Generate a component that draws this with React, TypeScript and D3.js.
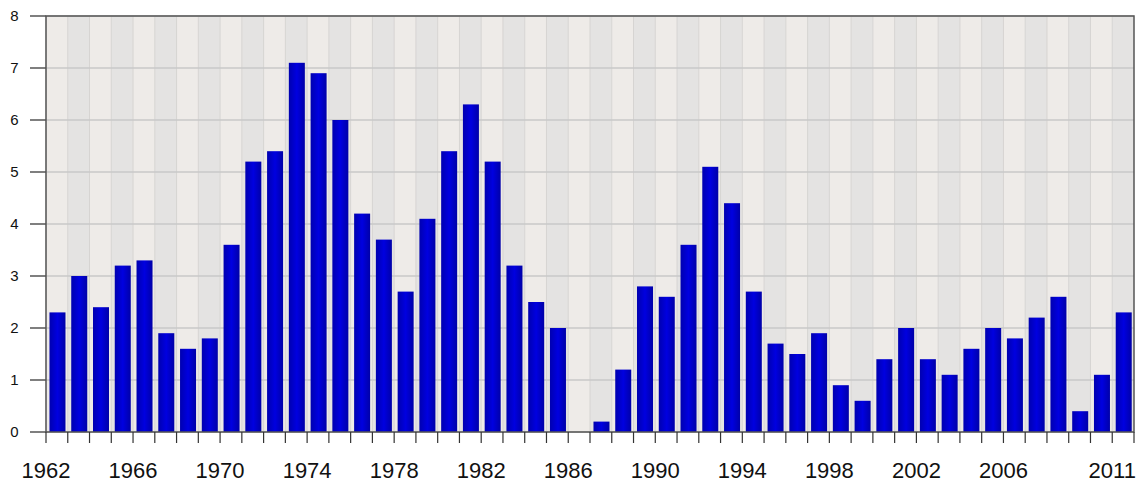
import * as d3 from "d3";
import React from "react";

const years = d3.range(1962, 2012);
const values = [
  2.3, 3.0, 2.4, 3.2, 3.3, 1.9, 1.6, 1.8, 3.6, 5.2,
  5.4, 7.1, 6.9, 6.0, 4.2, 3.7, 2.7, 4.1, 5.4, 6.3,
  5.2, 3.2, 2.5, 2.0, 0, 0.2, 1.2, 2.8, 2.6, 3.6,
  5.1, 4.4, 2.7, 1.7, 1.5, 1.9, 0.9, 0.6, 1.4, 2.0,
  1.4, 1.1, 1.6, 2.0, 1.8, 2.2, 2.6, 0.4, 1.1, 2.3,
];
const xLabels = [1962, 1966, 1970, 1974, 1978, 1982, 1986, 1990, 1994, 1998, 2002, 2006, 2011];
const yTicks = [0, 1, 2, 3, 4, 5, 6, 7, 8];

const width = 1143;
const height = 483;
const left = 46;
const right = 1134;
const top = 16;
const bottom = 432;

const App = () => {
  const x = d3.scaleBand<number>().domain(years).range([left, right]).padding(0);
  const y = d3.scaleLinear().domain([0, 8]).range([bottom, top]);
  const bw = x.bandwidth();
  const barW = 16;

  return (
    <svg
      width={width}
      height={height}
      style={{ position: "absolute", left: 0, top: 0, fontFamily: "Liberation Sans, Arial, sans-serif" }}
    >
      <defs>
        <linearGradient id="barGrad" x1="0" x2="1" y1="0" y2="0">
          <stop offset="0%" stopColor="#0000b0" />
          <stop offset="50%" stopColor="#0000e0" />
          <stop offset="100%" stopColor="#0000a8" />
        </linearGradient>
      </defs>
      <rect x={0} y={0} width={width} height={height} fill="#fff" />
      {years.map((yr, i) => (
        <rect
          key={"bg" + yr}
          x={x(yr)!}
          y={top}
          width={bw}
          height={bottom - top}
          fill={i % 2 === 0 ? "#eeebe8" : "#e4e3e2"}
        />
      ))}
      {years.map((yr) => (
        <line
          key={"vl" + yr}
          x1={x(yr)!}
          x2={x(yr)!}
          y1={top}
          y2={bottom}
          stroke="#d6d4d2"
          strokeWidth={1}
        />
      ))}
      {yTicks.map((t) => (
        <line key={"hg" + t} x1={left} x2={right} y1={y(t)} y2={y(t)} stroke="#c8c8c8" strokeWidth={1.5} />
      ))}
      {years.map((yr, i) =>
        values[i] > 0 ? (
          <rect
            key={"b" + yr}
            x={x(yr)! + (bw - barW) / 2 + 0.6}
            y={y(values[i])}
            width={barW}
            height={bottom - y(values[i])}
            fill="url(#barGrad)"
          />
        ) : null
      )}
      <rect x={left} y={top} width={right - left} height={bottom - top} fill="none" stroke="#555" strokeWidth={1.5} />
      {yTicks.map((t) => (
        <g key={"yt" + t}>
          <line x1={30} x2={left} y1={y(t)} y2={y(t)} stroke="#555" strokeWidth={1.5} />
          <text x={18.5} y={y(t)} dy="0.36em" textAnchor="end" fontSize={15} fill="#111">
            {t}
          </text>
        </g>
      ))}
      {years.concat([2012]).map((yr) => {
        const xx = yr === 2012 ? right : x(yr)!;
        return <line key={"xt" + yr} x1={xx} x2={xx} y1={bottom} y2={bottom + 11} stroke="#333" strokeWidth={1.2} />;
      })}
      {xLabels.map((yr) => (
        <text key={"xl" + yr} x={x(yr)!} y={478} textAnchor="middle" fontSize={22} fill="#111">
          {yr}
        </text>
      ))}
    </svg>
  );
};

export default App;
